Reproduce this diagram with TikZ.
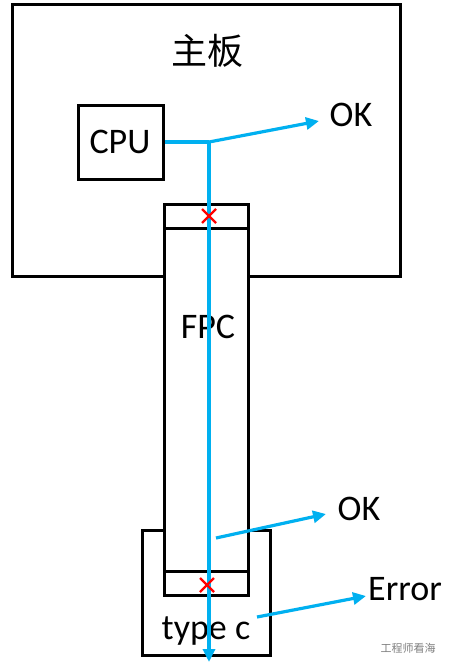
\documentclass[tikz,border=0pt]{standalone}
\usepackage{fontspec}
\setmainfont{Carlito}
\newfontfamily\cjk{Noto Sans CJK SC}
\usetikzlibrary{arrows.meta}
\definecolor{lblue}{RGB}{0,176,240}
\begin{document}
\begin{tikzpicture}[x=1pt,y=-1pt,
 box/.style={draw=black,line width=3pt,inner sep=0pt},
 lbl/.style={inner sep=0pt,anchor=base,font=\fontsize{36}{40}\selectfont},
 sig/.style={draw=lblue,line width=3.2pt},
 sigarrow/.style={sig,-{Triangle[length=13pt,width=12pt]}},
 xmark/.style={draw=red,line width=2.2pt},
 divider/.style={draw=black,line width=3pt}]
\useasboundingbox[fill=white] (0,0) rectangle (449,669);
% boxes
\node[box,minimum width=388pt,minimum height=271pt] (board) at (206,140.5) {};
\node[box,minimum width=85pt,minimum height=74pt] (cpu) at (120.5,142) {};
\node[box,minimum width=128pt,minimum height=125pt] (typec) at (206,592.5) {};
\node[box,fill=white,minimum width=84pt,minimum height=391pt] (fpc) at (206,399.5) {};
\coordinate (d1l) at (164,228); \coordinate (d1r) at (248,228);
\coordinate (d2l) at (164,571); \coordinate (d2r) at (248,571);
\draw[divider] (d1l) -- (d1r);
\draw[divider] (d2l) -- (d2r);
% labels
\node[inner sep=0pt,font=\cjk\fontsize{36}{40}\selectfont] (title) at (207,51) {主板};
\node[lbl] (cputxt) at (120,153) {CPU};
\node[lbl] (fpctxt) at (208,338) {FPC};
\node[lbl] (typetxt) at (206,639) {type c};
\node[lbl] (ok1) at (351,126) {OK};
\node[lbl] (ok2) at (359,520) {OK};
\node[lbl] (err) at (405,600) {Error};
% signal paths
\coordinate (junc) at (209,142);
\coordinate (bottom) at (209,662);
\coordinate (ok1tip) at (319,121);
\coordinate (ok2s) at (216,538);
\coordinate (ok2tip) at (326,514);
\coordinate (errs) at (257,617);
\coordinate (errtip) at (366,596);
\draw[sig] (cpu.east |- junc) -- (junc);
\draw[sigarrow] (junc) -- (bottom);
\draw[sigarrow] (junc) -- (ok1tip);
\draw[sigarrow] (ok2s) -- (ok2tip);
\draw[sigarrow] (errs) -- (errtip);
% crosses
\coordinate (x1) at (209,216);
\coordinate (x2) at (207,585);
\draw[xmark] ([shift={(-7,-7)}]x1) -- ([shift={(7,7)}]x1) ([shift={(-7,7)}]x1) -- ([shift={(7,-7)}]x1);
\draw[xmark] ([shift={(-7,-7)}]x2) -- ([shift={(7,7)}]x2) ([shift={(-7,7)}]x2) -- ([shift={(7,-7)}]x2);
% watermark
\node[inner sep=0pt,text=gray,font=\cjk\fontsize{11}{12}\selectfont] (wm) at (408,648) {工程师看海};
\end{tikzpicture}
\end{document}
